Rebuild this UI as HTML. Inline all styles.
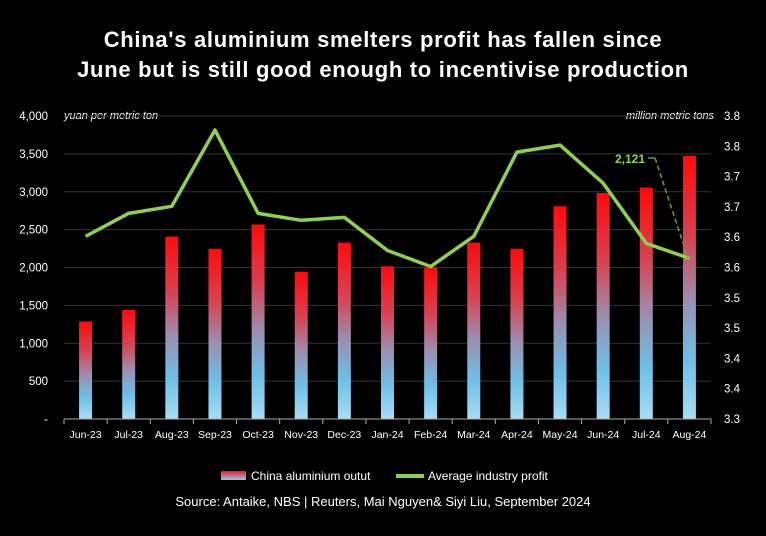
<!DOCTYPE html>
<html><head><meta charset="utf-8"><style>
body{margin:0;background:#000;width:766px;height:531px;overflow:hidden;font-family:"Liberation Sans",sans-serif;}
</style></head><body>
<svg width="766" height="531" viewBox="0 0 766 531" xmlns="http://www.w3.org/2000/svg">
<defs>
<linearGradient id="barGrad" x1="0" y1="0" x2="0" y2="1">
<stop offset="0" stop-color="#ff0a0a"/>
<stop offset="0.3" stop-color="#d94050"/>
<stop offset="0.55" stop-color="#9a8fb0"/>
<stop offset="0.78" stop-color="#6cc0e8"/>
<stop offset="1" stop-color="#a8dcf4"/>
</linearGradient>
<linearGradient id="legGrad" x1="0" y1="0" x2="0" y2="1">
<stop offset="0" stop-color="#ff1010"/><stop offset="0.5" stop-color="#c07090"/><stop offset="1" stop-color="#8cc8ee"/>
</linearGradient>
</defs>
<text x="383" y="47" text-anchor="middle" fill="#fff" font-size="22" font-weight="bold" letter-spacing="0.7">China's aluminium smelters profit has fallen since</text>
<text x="383" y="77" text-anchor="middle" fill="#fff" font-size="22" font-weight="bold" letter-spacing="0.7">June but is still good enough to incentivise production</text>
<text x="64" y="119" fill="#fff" font-size="11" font-style="italic">yuan per metric ton</text>
<text x="714" y="119" fill="#fff" font-size="11" font-style="italic" text-anchor="end">million metric tons</text>
<g id="grid"></g><g id="bars"></g><g id="axes"></g><g id="line"></g>
<line x1="648" y1="158" x2="655" y2="158" stroke="#6a9a3a" stroke-width="1.5"/>
<line x1="655" y1="158" x2="688" y2="258" stroke="#6a9a3a" stroke-width="1.5" stroke-dasharray="5,3"/>
<text x="615" y="163" fill="#8fd14f" font-size="12" font-weight="bold">2,121</text>
<rect x="221" y="471" width="25" height="9" fill="url(#legGrad)"/>
<text x="251" y="480" fill="#fff" font-size="12">China aluminium outut</text>
<line x1="396" y1="476" x2="424" y2="476" stroke="#8fd14f" stroke-width="4"/>
<text x="428" y="480" fill="#fff" font-size="12">Average industry profit</text>
<text x="383" y="506" text-anchor="middle" fill="#fff" font-size="13">Source: Antaike, NBS | Reuters, Mai Nguyen&amp; Siyi Liu, September 2024</text>
</svg>
<script>
const categories=["Jun-23","Jul-23","Aug-23","Sep-23","Oct-23","Nov-23","Dec-23","Jan-24","Feb-24","Mar-24","Apr-24","May-24","Jun-24","Jul-24","Aug-24"];
const outputValues=[3.461,3.480,3.601,3.581,3.621,3.543,3.591,3.552,3.550,3.591,3.581,3.651,3.673,3.682,3.734];
const profitValues=[2411,2715,2808,3815,2715,2623,2662,2225,2013,2411,3523,3616,3113,2318,2121];
const leftTicks=[0,500,1000,1500,2000,2500,3000,3500,4000];
const leftTickLabels=["-","500","1,000","1,500","2,000","2,500","3,000","3,500","4,000"];
const rightTicks=[3.3,3.35,3.4,3.45,3.5,3.55,3.6,3.65,3.7,3.75,3.8];
const rightTickLabels=["3.3","3.4","3.4","3.5","3.5","3.6","3.6","3.7","3.7","3.8","3.8"];
const NS="http://www.w3.org/2000/svg";
const X0=64,X1=711,YT=116,YB=419;
const bw=(X1-X0)/categories.length;
const xc=i=>X0+bw*(i+0.5);
const yL=v=>YB-(v/4000)*(YB-YT);
const yR=v=>YB-((v-3.3)/0.5)*(YB-YT);
function mk(tag,attrs,parent){const e=document.createElementNS(NS,tag);for(const k in attrs)e.setAttribute(k,attrs[k]);document.getElementById(parent).appendChild(e);return e;}
leftTicks.forEach((t,i)=>{
 if(t>0){const g=mk('line',{x1:X0,x2:X1,y1:yL(t),y2:yL(t),stroke:'#333','stroke-width':1},'grid');
 
 }
 const l=mk('text',{x:48,y:yL(t)+4,'text-anchor':'end',fill:'#fff','font-size':11.5},'axes');l.textContent=leftTickLabels[i];
 
 
});
rightTicks.forEach((t,i)=>{
 const l=mk('text',{x:724,y:yR(t)+4,fill:'#fff','font-size':11.5},'axes');l.textContent=rightTickLabels[i];
 
 
});
const ax=mk('line',{x1:X0,x2:X1,y1:YB,y2:YB,stroke:'#aaa','stroke-width':1},'axes');


for(let i=0;i<=categories.length;i++){const t=mk('line',{x1:X0+bw*i,x2:X0+bw*i,y1:YB,y2:YB+5,stroke:'#aaa'},'axes');
 
 }
categories.forEach((c,i)=>{
 const l=mk('text',{x:xc(i),y:YB+19,'text-anchor':'middle',fill:'#fff','font-size':10.5},'axes');l.textContent=c;
 
 
 const y=yR(outputValues[i]);
 const b=mk('rect',{x:xc(i)-6.5,y:y,width:13,height:YB-y,fill:'url(#barGrad)'},'bars');
 
 
});
const pts=profitValues.map((v,i)=>xc(i)+','+yL(v)).join(' ');
const pl=mk('polyline',{points:pts,fill:'none',stroke:'#8fd14f','stroke-width':3.5,'stroke-linejoin':'round'},'line');


</script>
</body></html>
